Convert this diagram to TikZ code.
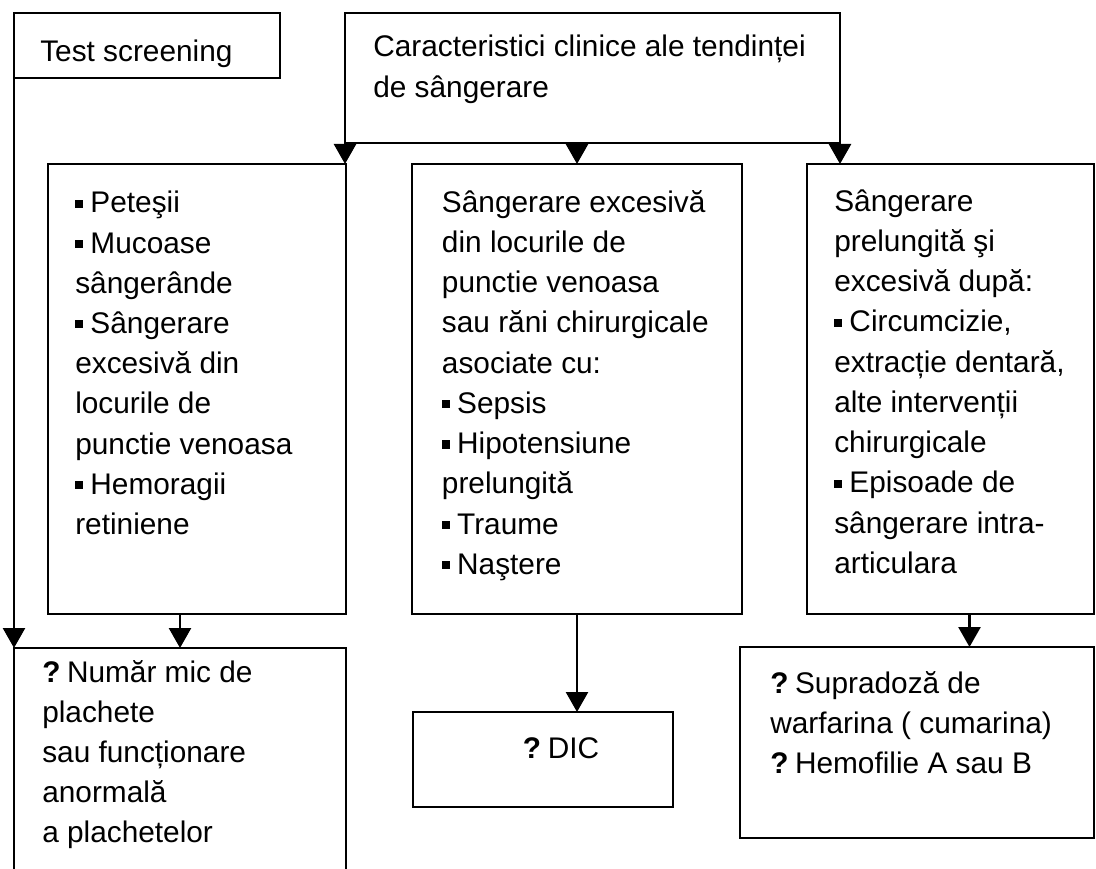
\documentclass[tikz,border=0pt]{standalone}
\usepackage{fontspec}
\setmainfont{Liberation Sans}
\usetikzlibrary{arrows.meta}

\newcommand{\pxl}{0.025cm}
\newcommand{\firstrow}{\rule{0pt}{0.8cm}}
\newcommand{\bul}{\raisebox{3.6pt}{\rule{5.8pt}{5.8pt}}\hspace{5pt}}
\newcommand{\qm}{\textbf{?}\hspace{0.22em}}

\begin{document}
\begin{tikzpicture}[x=0.025cm, y=-0.025cm, >={Triangle[length=0.5cm,width=0.55cm]},
  box/.style={draw, line width=1pt, rectangle, inner sep=0pt, outer sep=0pt, anchor=north west},
  txt/.style={anchor=north west, inner sep=0pt, align=left, font=\fontsize{21.2}{28.6}\selectfont},
  arr/.style={->, line width=1.8pt}]
  \clip (0,0) rectangle (1096,868);

  % Define blocks
  \node [box, minimum width=266*\pxl, minimum height=65*\pxl] (scr) at (14,13) {};
  \node [box, minimum width=495*\pxl, minimum height=130*\pxl] (clin) at (345,13) {};
  \node [box, minimum width=298*\pxl, minimum height=450*\pxl] (pete) at (48,164) {};
  \node [box, minimum width=330*\pxl, minimum height=450*\pxl] (dvs) at (412,164) {};
  \node [box, minimum width=287*\pxl, minimum height=450*\pxl] (pre) at (807,164) {};
  \node [box, minimum width=332*\pxl, minimum height=250*\pxl] (plac) at (14,648) {};
  \node [box, minimum width=260*\pxl, minimum height=95*\pxl] (dic) at (413,712) {};
  \node [box, minimum width=354*\pxl, minimum height=191*\pxl] (warf) at (740,647) {};

  % Texts
  \node [txt] (scrtxt) at (40,29.7) {\firstrow Test screening};
  \node [txt] (clintxt) at (373,24.7) {\firstrow Caracteristici clinice ale tendinței\\de sângerare};
  \node [txt] (petetxt) at (75,180.5) {\firstrow\bul Peteşii\\\bul Mucoase\\sângerânde\\\bul Sângerare\\excesivă din\\locurile de\\punctie venoasa\\\bul Hemoragii\\retiniene};
  \node [txt] (dvstxt) at (441.7,180) {\firstrow Sângerare excesivă\\din locurile de\\punctie venoasa\\sau răni chirurgicale\\asociate cu:\\\bul Sepsis\\\bul Hipotensiune\\prelungită\\\bul Traume\\\bul Naştere};
  \node [txt] (pretxt) at (834,179) {\firstrow Sângerare\\prelungită şi\\excesivă după:\\\bul Circumcizie,\\extracție dentară,\\alte intervenții\\chirurgicale\\\bul Episoade de\\sângerare intra-\\articulara};
  \node [txt] (plactxt) at (42,649.7) {\firstrow\qm Număr mic de\\plachete\\sau funcționare\\anormală\\a plachetelor};
  \node [txt] (dictxt) at (522.7,726) {\firstrow\qm DIC};
  \node [txt] (warftxt) at (770,660.7) {\firstrow\qm Supradoză de\\warfarina ( cumarina)\\\qm Hemofilie A sau B};

  % Connect blocks with down arrows
  \draw [arr] (scr.south west) -- (plac.north west);
  \draw [arr] (clin.south west) -- (clin.south west |- pete.north);
  \draw [arr] (dvs.north |- clin.south) -- (dvs.north);
  \draw [arr] (clin.south east) -- (clin.south east |- pre.north);
  \draw [arr] (plac.north |- pete.south) -- (plac.north);
  \draw [arr] (dvs.south) -- (dvs.south |- dic.north);
  \coordinate (c3) at ([xshift=19*\pxl]pre.south);
  \draw [arr] (c3) -- (c3 |- warf.north);
\end{tikzpicture}
\end{document}
